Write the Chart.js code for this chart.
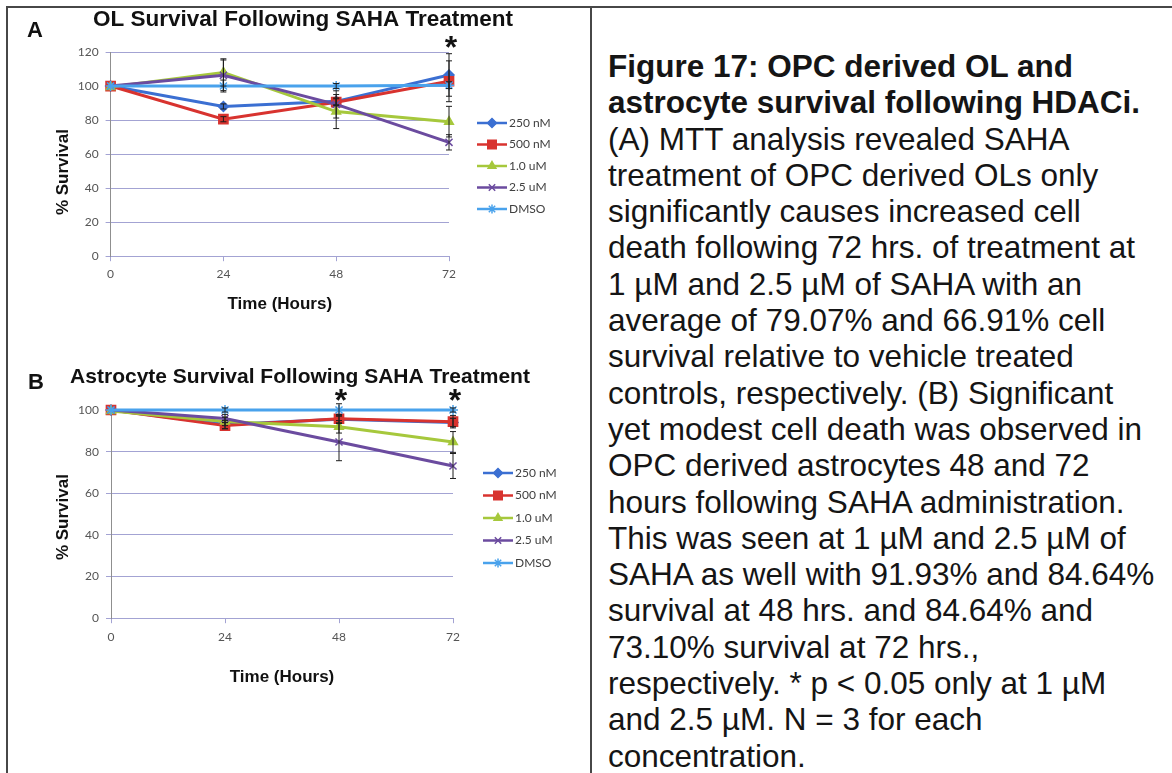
<!DOCTYPE html>
<html>
<head>
<meta charset="utf-8">
<title>Figure 17 - SAHA survival</title>
<script src="https://cdn.jsdelivr.net/npm/chart.js@4.4.1/dist/chart.umd.min.js"></script>
<style>
    body { margin: 0; background: #fff; width: 1172px; height: 773px; overflow: hidden; position: relative; }
    .rule { position: absolute; background: #474747; }
    .panel { position: absolute; font: bold 22px "Liberation Sans", Arial, sans-serif; line-height: 22px; color: #111; }
    .box { position: absolute; }
    .caption {
        position: absolute; left: 608px; top: 48px; white-space: nowrap;
        font: 31.5px "Liberation Sans", Arial, sans-serif; line-height: 36.3px; color: #151515;
    }
</style>
</head>
<body>
<div class="rule" style="left:6px; top:6px; width:1166px; height:2px;"></div>
<div class="rule" style="left:6px; top:6px; width:2px; height:767px;"></div>
<div class="rule" style="left:590px; top:6px; width:2px; height:767px;"></div>

<div class="box" style="left:8px; top:8px;"><canvas id="chart-ol" width="590" height="330"></canvas></div>
<div class="box" style="left:8px; top:360px;"><canvas id="chart-astro" width="584" height="330"></canvas></div>

<div class="panel" style="left:27px; top:19px;">A</div>
<div class="panel" style="left:28px; top:371px;">B</div>

<div class="caption">
<b>Figure 17: OPC derived OL and</b><br>
<b>astrocyte survival following HDACi.</b><br>
(A) MTT analysis revealed SAHA<br>
treatment of OPC derived OLs only<br>
significantly causes increased cell<br>
death following 72 hrs. of treatment at<br>
1 µM and 2.5 µM of SAHA with an<br>
average of 79.07% and 66.91% cell<br>
survival relative to vehicle treated<br>
controls, respectively. (B) Significant<br>
yet modest cell death was observed in<br>
OPC derived astrocytes 48 and 72<br>
hours following SAHA administration.<br>
This was seen at 1 µM and 2.5 µM of<br>
SAHA as well with 91.93% and 84.64%<br>
survival at 48 hrs. and 84.64% and<br>
73.10% survival at 72 hrs.,<br>
respectively. * p &lt; 0.05 only at 1 µM<br>
and 2.5 µM. N = 3 for each<br>
concentration.
</div>

<script>
// --- data -------------------------------------------------------------
const hours = ['0', '24', '48', '72'];
const seriesNames = ['250 nM', '500 nM', '1.0 uM', '2.5 uM', 'DMSO'];

// (A) OL survival, % of control
const ol250  = [100, 88, 91, 106.5];
const ol500  = [100, 80.5, 90.5, 102.8];
const ol1000 = [99.5, 108, 85, 79.07];
const ol2500 = [100, 106.3, 89.2, 66.91];
const olDmso = [100, 100, 100, 100.5];

const ol250Err  = [0, 1.5, 2, 12.5];
const ol500Err  = [0, 1.5, 2, 12];
const ol1000Err = [0, 8, 10, 9];
const ol2500Err = [0, 9, 8, 4.5];
const olDmsoErr = [0, 3.5, 1.5, 2];

// (B) astrocyte survival, % of control
const astro250  = [100, 93, 95.5, 94];
const astro500  = [100, 92.5, 95.8, 94.4];
const astro1000 = [99.5, 94.5, 91.93, 84.64];
const astro2500 = [100, 95.9, 84.64, 73.10];
const astroDmso = [100, 100, 100, 100];

const astro250Err  = [0, 2, 2, 2];
const astro500Err  = [0, 1.5, 2, 3];
const astro1000Err = [0, 2, 3, 5];
const astro2500Err = [0, 2, 9, 6];
const astroDmsoErr = [0, 1, 3, 1];

// hours with p < 0.05
const olSignificant = ['72'];
const astroSignificant = ['48', '72'];

// --- styles -----------------------------------------------------------
const colors = ['#3b6fd2', '#d8332f', '#a6c83c', '#6b4b9f', '#49a2ec'];
const markers = ['rectRot', 'rect', 'triangle', 'crossRot', 'star'];
const markerSizes = [5, 6.5, 5, 5, 5];
const gridColor = '#a3a3d3';
const tickFont = { family: 'Lato', size: 12 };
const boldFont = 'Liberation Sans';

// title, error bars, y title, asterisks and Excel-like legend
const extras = {
    id: 'extras',
    afterDatasetsDraw(chart) {
        const ctx = chart.ctx, xs = chart.scales.x, ys = chart.scales.y;
        ctx.save();
        ctx.strokeStyle = '#1e1e1e';
        ctx.lineWidth = 1;
        chart.data.datasets.forEach(ds => {
            ds.errors.forEach((e, i) => {
                if (!e) return;
                const px = xs.getPixelForValue(i);
                const top = ys.getPixelForValue(ds.data[i] + e);
                const bot = ys.getPixelForValue(ds.data[i] - e);
                ctx.beginPath();
                ctx.moveTo(px, top); ctx.lineTo(px, bot);
                ctx.moveTo(px - 3, top); ctx.lineTo(px + 3, top);
                ctx.moveTo(px - 3, bot); ctx.lineTo(px + 3, bot);
                ctx.stroke();
            });
        });
        ctx.restore();
    },
    afterDraw(chart, args, o) {
        const ctx = chart.ctx, area = chart.chartArea, xs = chart.scales.x;
        ctx.save();
        ctx.fillStyle = '#111';
        ctx.textAlign = 'center';
        ctx.textBaseline = 'middle';

        // chart title, centred on the canvas
        ctx.font = 'bold ' + o.titleSize + 'px ' + boldFont;
        ctx.fillText(o.title, chart.width / 2, o.titleY);

        // y axis title
        ctx.translate(o.yTitleX, (area.top + area.bottom) / 2 + o.yTitleShift);
        ctx.rotate(-Math.PI / 2);
        ctx.font = 'bold 17px ' + boldFont;
        ctx.fillText('% Survival', 0, 0);
        ctx.setTransform(1, 0, 0, 1, 0, 0);

        // significance asterisks
        ctx.font = 'bold 32px ' + boldFont;
        ctx.textBaseline = 'alphabetic';
        const m = ctx.measureText('*');
        const shift = (m.actualBoundingBoxAscent - m.actualBoundingBoxDescent) / 2;
        o.stars.forEach(h => {
            const px = xs.getPixelForValue(hours.indexOf(h));
            ctx.fillText('*', px + 2, area.top - o.starLift + shift);
        });

        // legend: line with marker, then label
        const lx = area.right + o.legendLeft;
        chart.data.datasets.forEach((ds, i) => {
            const y = area.top + o.legendTop + i * o.legendGap;
            ctx.strokeStyle = ds.borderColor;
            ctx.lineWidth = 2.5;
            ctx.beginPath();
            ctx.moveTo(lx, y); ctx.lineTo(lx + 30, y);
            ctx.stroke();
            ctx.fillStyle = ds.backgroundColor;
            ctx.lineWidth = 1.5;
            Chart.helpers.drawPoint(ctx, {
                pointStyle: ds.pointStyle, radius: ds.pointRadius - 0.5, rotation: 0, borderWidth: 1.5
            }, lx + 15, y);
            ctx.fillStyle = '#404040';
            ctx.font = '12px Lato';
            ctx.textAlign = 'left';
            ctx.textBaseline = 'middle';
            ctx.fillText(ds.label, lx + 32, y);
        });
        ctx.restore();
    }
};

function makeDatasets(values, errors) {
    return seriesNames.map((name, i) => ({
        label: name,
        data: values[i],
        errors: errors[i],
        borderColor: colors[i],
        backgroundColor: colors[i],
        borderWidth: 3,
        pointStyle: markers[i],
        pointRadius: markerSizes[i],
        pointBorderWidth: 1.5,
        tension: 0,
        clip: false,
        order: seriesNames.length - i
    }));
}

function makeOptions(c) {
    return {
        responsive: false,
        animation: false,
        events: [],
        layout: { padding: { left: 0, right: c.padRight, top: c.padTop, bottom: c.padBottom } },
        plugins: {
            legend: { display: false },
            tooltip: { enabled: false },
            title: { display: false },
            extras: c.extras
        },
        scales: {
            x: {
                grid: { drawOnChartArea: false, tickLength: 5, color: gridColor },
                border: { color: gridColor },
                ticks: { padding: c.xTickPad, font: tickFont, color: '#555' },
                title: {
                    display: true, text: 'Time (Hours)', color: '#111',
                    font: { family: boldFont, weight: 'bold', size: 17 },
                    padding: { top: c.xTitlePad, bottom: 0 }
                }
            },
            y: {
                min: 0, max: c.yMax,
                ticks: { stepSize: 20, padding: 7, font: tickFont, color: '#555' },
                grid: { color: gridColor, tickLength: 5 },
                border: { color: '#8f8f8f' },
                afterFit: s => { s.width = c.yWidth; }
            }
        }
    };
}

document.addEventListener('DOMContentLoaded', () => {

    // (A) OL survival
    new Chart(document.getElementById('chart-ol').getContext('2d'), {
        type: 'line',
        data: {
            labels: hours,
            datasets: makeDatasets(
                [ol250, ol500, ol1000, ol2500, olDmso],
                [ol250Err, ol500Err, ol1000Err, ol2500Err, olDmsoErr])
        },
        options: makeOptions({
            padTop: 44, padRight: 149, padBottom: 23, xTickPad: 6, xTitlePad: 7, yMax: 120, yWidth: 102.6,
            extras: { title: 'OL Survival Following SAHA Treatment', titleSize: 22.5, titleY: 12,
                      yTitleX: 55, yTitleShift: 18, stars: olSignificant, starLift: 10,
                      legendLeft: 28, legendTop: 71, legendGap: 21.5 }
        }),
        plugins: [extras]
    });

    // (B) astrocyte survival
    new Chart(document.getElementById('chart-astro').getContext('2d'), {
        type: 'line',
        data: {
            labels: hours,
            datasets: makeDatasets(
                [astro250, astro500, astro1000, astro2500, astroDmso],
                [astro250Err, astro500Err, astro1000Err, astro2500Err, astroDmsoErr])
        },
        options: makeOptions({
            padTop: 50, padRight: 139, padBottom: 2, xTickPad: 7, xTitlePad: 16, yMax: 100, yWidth: 103,
            extras: { title: 'Astrocyte Survival Following SAHA Treatment', titleSize: 21, titleY: 17,
                      yTitleX: 55, yTitleShift: 3, stars: astroSignificant, starLift: 15,
                      legendLeft: 30, legendTop: 63, legendGap: 22.5 }
        }),
        plugins: [extras]
    });
});
</script>
</body>
</html>
